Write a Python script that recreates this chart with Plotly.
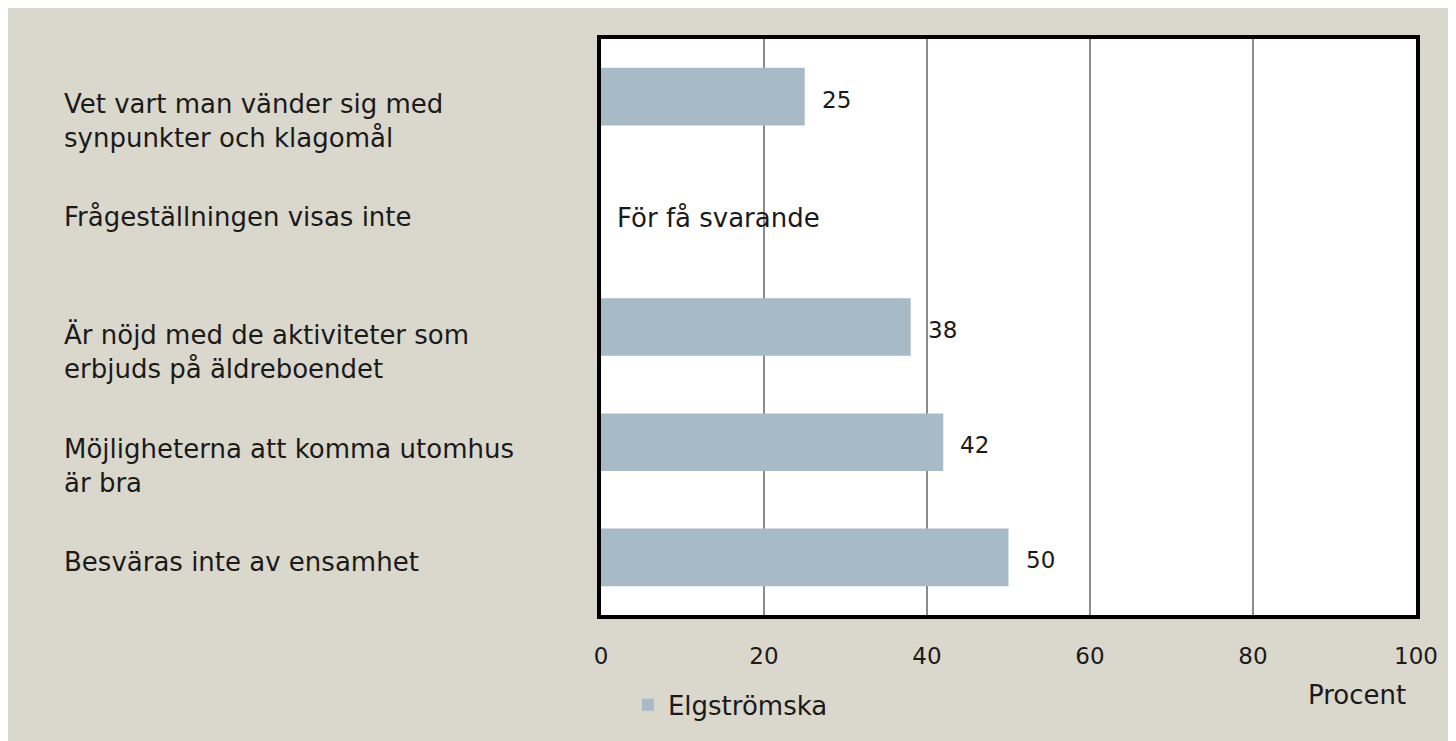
import plotly.graph_objects as go

# Data (top to bottom as shown in the chart)
categories = [
    "Vet vart man vänder sig med<br>synpunkter och klagomål",
    "Frågeställningen visas inte",
    "Är nöjd med de aktiviteter som<br>erbjuds på äldreboendet",
    "Möjligheterna att komma utomhus<br>är bra",
    "Besväras inte av ensamhet",
]
values = [25, None, 38, 42, 50]
missing_note = "För få svarande"
series_name = "Elgströmska"
x_ticks = [0, 20, 40, 60, 80, 100]
x_title = "Procent"

BG = "#dad8cc"
BAR = "#a7bbc6"
FONT = "DejaVu Sans"
TXT = "#1a1a1a"

fig = go.Figure()
fig.add_trace(
    go.Bar(
        x=values,
        y=categories,
        orientation="h",
        name=series_name,
        width=0.5,
        marker=dict(color=BAR, line=dict(width=0)),
        hoverinfo="skip",
    )
)

annotations = []
# category labels, left aligned outside the plot frame
for cat in categories:
    n_lines = cat.count("<br>") + 1
    annotations.append(
        dict(
            x=-0.661, xref="paper", xanchor="left",
            y=cat, yref="y", yanchor="middle",
            yshift=-(19 * (n_lines - 1) + 5),
            text=cat, showarrow=False, align="left",
            font=dict(family=FONT, size=26, color=TXT),
        )
    )
# value labels / missing note
for cat, v in zip(categories, values):
    if v is None:
        annotations.append(
            dict(
                x=0, xref="x", xanchor="left", xshift=14,
                y=cat, yref="y", yanchor="middle", yshift=-6,
                text=missing_note, showarrow=False,
                font=dict(family=FONT, size=26, color=TXT),
            )
        )
    else:
        annotations.append(
            dict(
                x=v, xref="x", xanchor="left", xshift=15,
                y=cat, yref="y", yanchor="middle", yshift=-3,
                text=str(v), showarrow=False,
                font=dict(family=FONT, size=23, color=TXT),
            )
        )
annotations.append(
    dict(
        x=0.990, xref="paper", xanchor="right",
        y=-0.139, yref="paper", yanchor="middle",
        text=x_title, showarrow=False,
        font=dict(family=FONT, size=26, color=TXT),
    )
)

fig.update_layout(
    width=1456,
    height=741,
    paper_bgcolor=BG,
    plot_bgcolor="white",
    font=dict(family=FONT, size=23, color=TXT),
    margin=dict(l=593, r=48, t=31, b=134),
    bargap=0.5,
    showlegend=True,
    legend=dict(
        orientation="h",
        x=0.033, xanchor="left",
        y=-0.156, yanchor="middle",
        bgcolor="rgba(0,0,0,0)",
        font=dict(family=FONT, size=26, color=TXT),
    ),
    xaxis=dict(
        range=[0, 100],
        tickvals=x_ticks,
        showgrid=True,
        gridcolor="#8c8c8c",
        gridwidth=1.5,
        zeroline=False,
        showline=True,
        linecolor="black",
        linewidth=4,
        mirror=True,
        ticks="outside",
        ticklen=17,
        tickcolor="rgba(0,0,0,0)",
        tickfont=dict(family=FONT, size=23, color=TXT),
        fixedrange=True,
    ),
    yaxis=dict(
        categoryorder="array",
        categoryarray=categories[::-1],
        showticklabels=False,
        showgrid=False,
        zeroline=False,
        showline=True,
        linecolor="black",
        linewidth=4,
        mirror=True,
        ticks="",
        fixedrange=True,
    ),
    annotations=annotations,
)

fig.write_html("out.html")
